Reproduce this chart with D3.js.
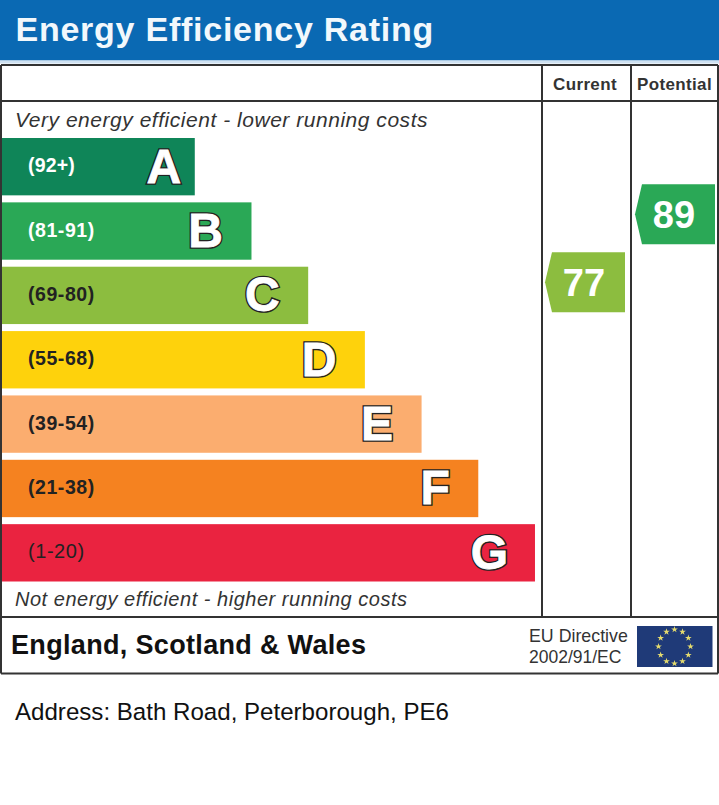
<!DOCTYPE html>
<html><head><meta charset="utf-8">
<script src="https://cdnjs.cloudflare.com/ajax/libs/d3/7.8.5/d3.min.js"></script>
<style>html,body{margin:0;padding:0;background:#fff}svg{display:block}text{font-family:"Liberation Sans",Arial,sans-serif}</style>
</head><body><svg id="c" width="719" height="805"></svg>
<script>
const bandLetters = ["A","B","C","D","E","F","G"];
const bandRanges = ["(92+)","(81-91)","(69-80)","(55-68)","(39-54)","(21-38)","(1-20)"];
const bandLengths = [34,44,54,64,74,84,94];
const bandColors = ["#0f8558","#2aa856","#8cbd3f","#fed20c","#fbad6f","#f58220","#ea2340"];
const rangeColors = ["#fff","#fff","#222","#222","#222","#222","#222"];
const ratingNames = ["Current","Potential"];
const ratingScores = [77,89];
const ratingColors = ["#8cbd3f","#2aa856"];

const svg = d3.select("#c");
const x = d3.scaleLinear().domain([0,100]).range([2,569]);
const yBand = d3.scaleBand().domain(bandLetters).range([138,581.5]).paddingInner(0.109).paddingOuter(0).align(0);
const yScore = d3.scaleLinear().domain([0,100]).range([718,152]);
const xCol = d3.scaleBand().domain(ratingNames).range([542,722]).padding(0);

// header
svg.append("rect").attr("x",0).attr("y",0).attr("width",719).attr("height",60.5).attr("fill","#0a69b3");
svg.append("rect").attr("x",0).attr("y",60.5).attr("width",719).attr("height",3).attr("fill","#cfe2f2");
svg.append("text").attr("x",15.5).attr("y",41).attr("font-size",34).attr("font-weight","bold").attr("letter-spacing",0.75)
  .attr("fill","#f2f8fc").text("Energy Efficiency Rating");

// bars
const g = svg.selectAll("g.band").data(bandLetters).join("g").attr("class","band");
g.append("rect").attr("x",x(0)).attr("y",d=>yBand(d)).attr("height",yBand.bandwidth())
 .attr("width",(d,i)=>x(bandLengths[i])-x(0)).attr("fill",(d,i)=>bandColors[i]);
g.append("text").attr("x",28).attr("y",d=>yBand(d)+yBand.bandwidth()/2+5.5).attr("font-size",(d,i)=>i==6?20:19.5)
 .attr("font-weight",(d,i)=>i==6?"normal":"bold").attr("letter-spacing",(d,i)=>i==0?0.2:0.55)
 .attr("fill",(d,i)=>rangeColors[i]).text((d,i)=>bandRanges[i]);
const letterX=(d,i)=>x(bandLengths[bandLetters.indexOf(d)])-(d=="A"?13.5:d=="G"?27:28.5);
const letterY=d=>yBand(d)+yBand.bandwidth()/2+16;
g.append("text").attr("x",letterX).attr("y",letterY)
 .attr("text-anchor","end").attr("font-size",48).attr("font-weight","bold")
 .attr("fill","#222").attr("stroke","#222").attr("stroke-width",3.6)
 .attr("stroke-linejoin","miter").text(d=>d);
g.append("text").attr("x",letterX).attr("y",letterY)
 .attr("text-anchor","end").attr("font-size",48).attr("font-weight","bold")
 .attr("fill","#fff").attr("stroke","#fff").attr("stroke-width",0.8)
 .text(d=>d);

// frame
const lines=[[1,65,718,65],[1,101,718,101],[1,617,718,617],[1,673.5,718,673.5],[1,65,1,673.5],[718,65,718,673.5],[542,65,542,617],[631,65,631,617]];
svg.selectAll("line.f").data(lines).join("line").attr("class","f")
 .attr("x1",d=>d[0]).attr("y1",d=>d[1]).attr("x2",d=>d[2]).attr("y2",d=>d[3])
 .attr("stroke","#333").attr("stroke-width",2);

// column headers
svg.selectAll("text.h").data(ratingNames).join("text").attr("class","h")
 .attr("x",d=>xCol(d)+xCol.bandwidth()/2-(d=="Potential"?2.5:2)).attr("y",89.5).attr("text-anchor","middle")
 .attr("font-size",17).attr("font-weight","bold").attr("fill","#333").attr("letter-spacing",0.35).text(d=>d);

// captions
svg.append("text").attr("x",15).attr("y",127).attr("font-size",21).attr("font-style","italic").attr("letter-spacing",0.53).attr("fill","#333").text("Very energy efficient - lower running costs");
svg.append("text").attr("x",15).attr("y",606).attr("font-size",20).attr("font-style","italic").attr("letter-spacing",0.52).attr("fill","#333").text("Not energy efficient - higher running costs");

// rating badges
const badge = svg.selectAll("g.r").data(ratingNames).join("g").attr("class","r")
 .attr("transform",(d,i)=>`translate(${xCol(d)+3},${yScore(ratingScores[i])})`);
badge.append("path").attr("fill",(d,i)=>ratingColors[i])
 .attr("d",d3.line()([[0,0],[7,-30],[80,-30],[80,30],[7,30]])+"Z");
badge.append("text").attr("x",39).attr("y",14).attr("text-anchor","middle").attr("font-size",38).attr("font-weight","bold").attr("fill","#fff")
 .text((d,i)=>ratingScores[i]);

// footer
svg.append("text").attr("x",11).attr("y",654).attr("font-size",27).attr("font-weight","bold").attr("letter-spacing",0.33).attr("fill","#111").text("England, Scotland & Wales");
svg.append("text").attr("x",529).attr("y",642).attr("font-size",17.8).attr("fill","#333").text("EU Directive");
svg.append("text").attr("x",529).attr("y",662.5).attr("font-size",17.5).attr("fill","#333").text("2002/91/EC");
svg.append("rect").attr("x",637).attr("y",626).attr("width",75.5).attr("height",41).attr("fill","#1f3a78");
const star=d3.symbol().type(d3.symbolStar).size(14)();
svg.selectAll("path.s").data(d3.range(12)).join("path").attr("class","s").attr("d",star).attr("fill","#e6dc6e")
 .attr("transform",d=>`translate(${674.5+16*Math.sin(d*Math.PI/6)},${646.5-17*Math.cos(d*Math.PI/6)})`);

svg.append("text").attr("x",15).attr("y",720).attr("font-size",24.1).attr("fill","#111").text("Address: Bath Road, Peterborough, PE6");
</script></body></html>
